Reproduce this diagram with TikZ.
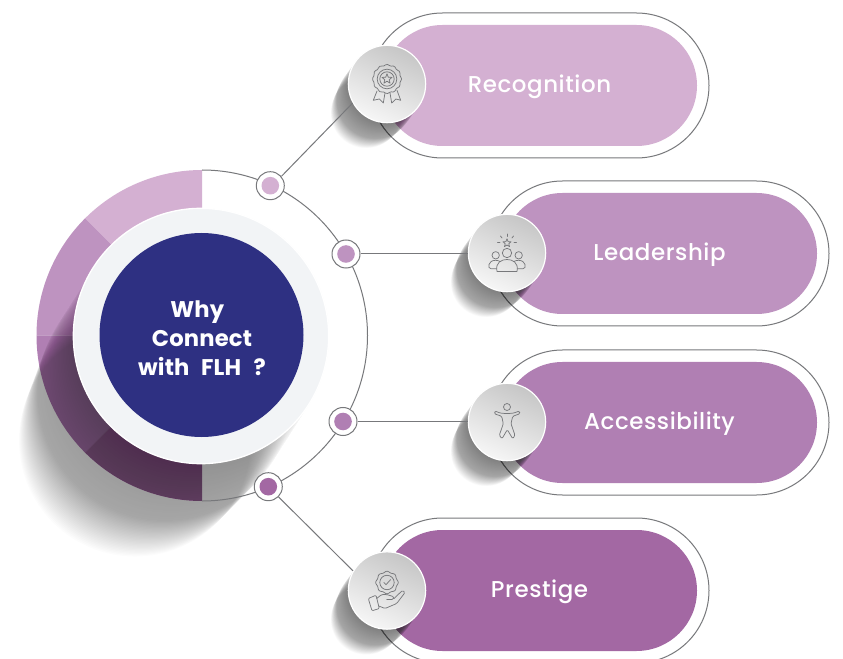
\documentclass[tikz,border=0pt]{standalone}
\usepackage{fontspec}
\setmainfont{Poppins}
\newfontfamily\pillfont[LetterSpace=2.5]{Poppins Medium}
\newfontfamily\hubfont[LetterSpace=0.8]{Poppins Bold}
\usetikzlibrary{shapes.misc}
\definecolor{cA}{HTML}{D4B0D2}
\definecolor{cB}{HTML}{BE93C0}
\definecolor{cC}{HTML}{B07FB3}
\definecolor{cD}{HTML}{A368A3}
\definecolor{navy}{HTML}{2E3082}
\definecolor{paleface}{HTML}{F2F4F6}
\definecolor{wire}{HTML}{77787B}
\newcommand{\castshadow}[6]{% cx cy r dx dy strength
  \foreach \i in {0,...,29}{
    \pgfmathsetmacro{\tt}{0.55*\i/29}
    \fill[black,opacity=0.006*#6] ({#1+\tt*(#4)},{#2+\tt*(#5)}) circle[radius=#3];
  }
  \foreach \i in {0,...,29}{
    \pgfmathsetmacro{\tt}{0.55+0.45*\i/29}
    \pgfmathsetmacro{\rr}{#3*(1-0.09*\i/29)}
    \fill[black,opacity=0.012*#6] ({#1+\tt*(#4)},{#2+\tt*(#5)}) circle[radius=\rr];
  }
}
\definecolor{BallTop}{HTML}{C6C6C6}
\definecolor{BallBottom}{HTML}{F6F6F6}
\tikzset{
  outerpill/.style={rounded rectangle,draw=wire,line width=0.75pt,fill=white,minimum width=254.25pt,minimum height=108.75pt,inner sep=0pt},
  innerpill/.style={rounded rectangle,minimum width=236.25pt,minimum height=90.75pt,inner sep=0pt,text=white,font=\pillfont\fontsize{17.2}{20}\selectfont},
  iconball/.style={circle,minimum size=58pt,inner sep=0pt,draw=white,line width=0.9pt,shade,top color=BallTop,bottom color=BallBottom,shading angle=-25},
  linkdot/.style={circle,draw=wire,line width=0.75pt,fill=white,minimum size=21pt,inner sep=0pt},
  wireline/.style={draw=wire,line width=0.75pt},
  glyph/.style={draw=wire,line width=0.55pt,line join=round,line cap=round},
  centretext/.style={align=center,text=white,font=\hubfont\fontsize{17}{21.8}\selectfont}
}
\newcommand{\pilltext}[1]{\raisebox{-5pt}[0pt][0pt]{#1}}
\begin{document}
\begin{tikzpicture}[x=0.75pt,y=-0.75pt]
\useasboundingbox (0,0) rectangle (843,659);
\clip (0,0) rectangle (843,659);
\fill[white] (0,0) rectangle (843,659);

% ring sectors
\begin{scope}[shift={(202,335.5)}]
\fill[cA] (0,0) -- (270:165.5) arc[start angle=270,end angle=225,radius=165.5] -- cycle;
\fill[cB] (0,0) -- (225:165.5) arc[start angle=225,end angle=180,radius=165.5] -- cycle;
\fill[cC] (0,0) -- (180:165.5) arc[start angle=180,end angle=135,radius=165.5] -- cycle;
\fill[cD] (0,0) -- (135:165.5) arc[start angle=135,end angle=90,radius=165.5] -- cycle;
\end{scope}

% pills
\node[outerpill] (o1) at (539.5,85.5) {};
\node[outerpill] (o2) at (659.5,253.5) {};
\node[outerpill] (o3) at (659.5,422.5) {};
\node[outerpill] (o4) at (539.5,590.5) {};
\node[innerpill,fill=cA] (p1) at (539.5,85.5) {\pilltext{Recognition}};
\node[innerpill,fill=cB] (p2) at (659.5,253.5) {\pilltext{Leadership}};
\node[innerpill,fill=cC] (p3) at (659.5,422.5) {\pilltext{Accessibility}};
\node[innerpill,fill=cD] (p4) at (539.5,590.5) {\pilltext{Prestige}};

% cast shadows
\castshadow{202}{335.5}{127.5}{-67}{105}{0.95}
\castshadow{387}{84}{38.7}{-21}{29}{1.1}
\castshadow{507}{253}{38.7}{-21}{29}{1.1}
\castshadow{507}{422}{38.7}{-21}{29}{1.1}
\castshadow{387}{590.5}{38.7}{-21}{29}{1.1}

% outer ring
\draw[wireline] (202,170) arc[start angle=-90,end angle=90,radius=165.5];

% centre
\node[circle,minimum size=191.5pt,inner sep=0pt,fill=paleface,draw=white,line width=1pt] (hub) at (201,336) {};
\node[circle,minimum size=153pt,inner sep=0pt,fill=navy] (core) at (201.5,335) {};
\node[centretext] (title) at (202,338) {Why\hspace*{7pt}\\Connect\hspace*{7pt}\\with\hspace{5pt} FLH\hspace{5.5pt} ?};

% icon balls
\node[iconball] (i1) at (387,84) {};
\node[iconball] (i2) at (507,253) {};
\node[iconball] (i3) at (507,422) {};
\node[iconball] (i4) at (387,590.5) {};

% link dots
\node[linkdot] (d1) at (270.3,185.7) {};
\node[linkdot] (d2) at (346,254) {};
\node[linkdot] (d3) at (343,421.5) {};
\node[linkdot] (d4) at (268.3,486.7) {};
\fill[cA] (d1) circle[radius=8.8];
\fill[cB] (d2) circle[radius=8.8];
\fill[cC] (d3) circle[radius=8.8];
\fill[cD] (d4) circle[radius=8.8];

% connectors
\draw[wireline] (d1.40) -- (i1.209);
\draw[wireline] (d2.east) -- (d2.east -| i2.west);
\draw[wireline] (d3.east) -- (d3.east -| i3.west);
\draw[wireline] (d4.-45) -- (i4.150);

% glyph 1: rosette
\begin{scope}[shift={(387,83)}]
\draw[glyph] plot[smooth cycle,domain=0:352,samples=45] ({(14+0.6*cos(12*\x))*cos(\x)},{-4+(14+0.6*cos(12*\x))*sin(\x)});
\draw[glyph] (0,-4) circle[radius=9.8];
\draw[glyph] (0,-4) circle[radius=7.2];
\draw[glyph] (0,-9.2) -- (1.3,-5.8) -- (5,-5.6) -- (2.2,-3.3) -- (3.1,0.2) -- (0,-1.8) -- (-3.1,0.2) -- (-2.2,-3.3) -- (-5,-5.6) -- (-1.3,-5.8) -- cycle;
\draw[glyph] (-10,8) -- (-13.7,17.3) -- (-7.7,16) -- (-3.7,20) -- (-2,10);
\draw[glyph] (3,10) -- (4.7,20) -- (9,16) -- (13.7,17.3) -- (10,7.3);
\end{scope}

% glyph 2: people with star
\begin{scope}[shift={(507,253)}]
\draw[glyph] (0,-14.2) -- (1.1,-11.4) -- (4,-11.2) -- (1.8,-9.3) -- (2.5,-6.4) -- (0,-8) -- (-2.5,-6.4) -- (-1.8,-9.3) -- (-4,-11.2) -- (-1.1,-11.4) -- cycle;
\draw[glyph] (0,-19) -- (0,-16.5);
\draw[glyph] (-6.5,-17) -- (-5,-15);
\draw[glyph] (6.5,-17) -- (5,-15);
\draw[glyph] (-9.5,-10.5) -- (-7,-10.5);
\draw[glyph] (9.5,-10.5) -- (7,-10.5);
\draw[glyph] (0,0) circle[radius=4.7];
\draw[glyph] (-11.3,2.3) circle[radius=3.7];
\draw[glyph] (11.7,2.3) circle[radius=3.7];
\draw[glyph] (-10,18.5) .. controls (-12,9) and (-5,6.5) .. (0,6.5) .. controls (5,6.5) and (12,9) .. (10,18.5) -- cycle;
\draw[glyph] (-10.5,15.7) -- (-16,15.7) .. controls (-20,15.7) and (-19,7.3) .. (-11.5,7.3) .. controls (-9.5,7.3) and (-8,7.8) .. (-6.8,8.6);
\draw[glyph] (10.5,15.7) -- (16,15.7) .. controls (20,15.7) and (19,7.3) .. (11.5,7.3) .. controls (9.5,7.3) and (8,7.8) .. (6.8,8.6);
\end{scope}

% glyph 3: person
\begin{scope}[shift={(507,422)}]
\draw[glyph] (0,-15) circle[radius=3.5];
\draw[glyph,rounded corners=0.9pt] (-12,-11) -- (-7,-9) -- (0,-8.3) -- (7,-9) -- (12.3,-11) -- (13,-8.3) -- (5.7,-5.7) -- (4,1.7) -- (8,13.3) -- (5.7,16.7) -- (0.3,7.7) -- (-5,16.7) -- (-7.7,13.3) -- (-3.7,1.7) -- (-5.3,-5.7) -- (-12.7,-8.3) -- cycle;
\end{scope}

% glyph 4: hand with badge
\begin{scope}[shift={(387,590.5)}]
\draw[glyph] plot[smooth cycle,domain=0:352,samples=45] ({(10.7+0.6*cos(8*\x))*cos(\x)},{-8+(10.7+0.6*cos(8*\x))*sin(\x)});
\draw[glyph] (0,-8) circle[radius=7.2];
\draw[glyph] (-3.2,-8) -- (-1,-5.8) -- (3.5,-10.8);
\draw[glyph,rounded corners=0.8pt] (-18.7,8) -- (-11,4.7) -- (-7.7,18) -- (-15,20.3) -- cycle;
\draw[glyph,rounded corners=1pt] (-10.3,8) -- (-5.3,4) -- (-0.3,4) -- (7,6.3) -- (6.3,9) -- (-0.3,9);
\draw[glyph,rounded corners=1pt] (7,8) -- (15.7,-0.3) -- (18,2) -- (9.7,13) -- (-2,18) -- (-7.7,15.7);
\end{scope}
\end{tikzpicture}
\end{document}
